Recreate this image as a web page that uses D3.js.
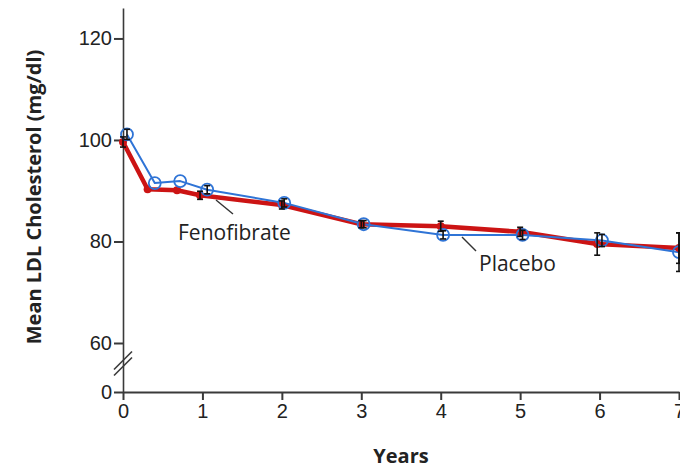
<!DOCTYPE html>
<html>
<head>
<meta charset="utf-8">
<script src="https://cdn.jsdelivr.net/npm/d3@7"></script>
<style>
  body { margin: 0; background: #fff; }
  svg { display: block; font-family: 'Open Sans', sans-serif; }
</style>
</head>
<body>
<svg id="chart" width="680" height="469"></svg>
<script>
// data
const fenoYears = [0, 0.31, 0.68, 0.97, 2.0, 3.0, 4.0, 5.0, 5.97, 7.0];
const fenoLdl = [99.6, 90.3, 90.1, 89.1, 87.2, 83.4, 83.0, 81.9, 79.5, 78.7];
const fenoErr = [1.0, 0, 0, 0.8, 0.8, 0.7, 1.0, 0.9, 2.2, 3.0];

const placeboYears = [0.05, 0.4, 0.72, 1.06, 2.03, 3.03, 4.03, 5.03, 6.03, 7.0];
const placeboLdl = [101.1, 91.5, 91.9, 90.2, 87.6, 83.4, 81.3, 81.3, 80.2, 77.9];
const placeboErr = [1.0, 0, 0, 0.8, 0.8, 0.7, 0.8, 0.9, 1.2, 3.8];

const xTicks = [0, 1, 2, 3, 4, 5, 6, 7];
const yTicks = [0, 60, 80, 100, 120];

const svg = d3.select('#chart');

// y has a broken axis between 0 and 60
const x = d3.scaleLinear().domain([0, 7]).range([123, 679]);
const y = d3.scaleLinear().domain([0, 60, 126]).range([392, 343, 8]);

const axisColor = '#3a3a3a';

const series = [
  { name: 'Fenofibrate', years: fenoYears, vals: fenoLdl, err: fenoErr, color: '#cc1414', width: 4.5 },
  { name: 'Placebo', years: placeboYears, vals: placeboLdl, err: placeboErr, color: '#2f74d6', width: 2 },
];
series.forEach((s) => {
  s.points = s.years.map((t, i) => ({ t: t, v: s.vals[i], e: s.err[i] }));
});

const line = d3.line().x((d) => x(d.t)).y((d) => y(d.v));

// x axis
svg.append('g')
  .attr('transform', `translate(0,${y(0)})`)
  .call(d3.axisBottom(x).tickValues(xTicks).tickFormat(d3.format('d')).tickSize(8).tickSizeOuter(0).tickPadding(4))
  .call((g) => g.select('.domain').attr('stroke', axisColor).attr('stroke-width', 2.2))
  .call((g) => g.selectAll('.tick line').attr('stroke', axisColor).attr('stroke-width', 2))
  .call((g) => g.selectAll('.tick text').attr('font-size', 20).attr('fill', '#222'));

// y axis
svg.append('g')
  .attr('transform', `translate(${x(0)},0)`)
  .call(d3.axisLeft(y).tickValues(yTicks).tickFormat(d3.format('d')).tickSize(9).tickSizeOuter(0).tickPadding(2))
  .call((g) => g.select('.domain').attr('stroke', axisColor).attr('stroke-width', 1.6))
  .call((g) => g.selectAll('.tick line').attr('stroke', axisColor).attr('stroke-width', 2))
  .call((g) => g.selectAll('.tick text').attr('font-size', 20).attr('fill', '#222'));

// break marks
const bx = x(0), by = (y(0) + y(60)) / 2 - 4;
[-3, 3].forEach((o) => {
  svg.append('line')
    .attr('x1', bx - 9).attr('y1', by + 9 + o)
    .attr('x2', bx + 9).attr('y2', by - 9 + o)
    .attr('stroke', axisColor).attr('stroke-width', 1.6);
});

// series lines
series.forEach((s) => {
  svg.append('path')
    .datum(s.points)
    .attr('fill', 'none')
    .attr('stroke', s.color)
    .attr('stroke-width', s.width)
    .attr('stroke-linejoin', 'round')
    .attr('d', line);
});

// red markers
svg.append('g').selectAll('circle')
  .data(series[0].points)
  .join('circle')
  .attr('cx', (d) => x(d.t))
  .attr('cy', (d) => y(d.v))
  .attr('r', 4)
  .attr('fill', series[0].color);

// blue open circles
svg.append('g').selectAll('circle')
  .data(series[1].points)
  .join('circle')
  .attr('cx', (d) => x(d.t))
  .attr('cy', (d) => y(d.v))
  .attr('r', 6)
  .attr('fill', 'none')
  .attr('stroke', series[1].color)
  .attr('stroke-width', 1.8);

// error bars
series.forEach((s) => {
  const g = svg.append('g').attr('stroke', '#111').attr('stroke-width', 1.6);
  s.points.filter((d) => d.e > 0).forEach((d) => {
    const cx = x(d.t), y1 = y(d.v + d.e), y2 = y(d.v - d.e);
    g.append('line').attr('x1', cx).attr('x2', cx).attr('y1', y1).attr('y2', y2);
    g.append('line').attr('x1', cx - 3).attr('x2', cx + 3).attr('y1', y1).attr('y2', y1);
    g.append('line').attr('x1', cx - 3).attr('x2', cx + 3).attr('y1', y2).attr('y2', y2);
  });
});

// labels with leader lines
svg.append('line').attr('x1', 216).attr('y1', 200).attr('x2', 233).attr('y2', 214)
  .attr('stroke', '#333').attr('stroke-width', 1.4);
svg.append('text').attr('x', 178).attr('y', 240).attr('font-size', 21).attr('fill', '#222')
  .text('Fenofibrate');

svg.append('line').attr('x1', 462).attr('y1', 237).attr('x2', 476).attr('y2', 251)
  .attr('stroke', '#333').attr('stroke-width', 1.4);
svg.append('text').attr('x', 479).attr('y', 271).attr('font-size', 21).attr('fill', '#222')
  .text('Placebo');

// axis titles
svg.append('text')
  .attr('x', 401).attr('y', 463)
  .attr('text-anchor', 'middle')
  .attr('font-size', 20).attr('font-weight', 'bold').attr('fill', '#222')
  .text('Years');

svg.append('text')
  .attr('transform', 'translate(41,197) rotate(-90)')
  .attr('text-anchor', 'middle')
  .attr('font-size', 20).attr('font-weight', 'bold').attr('fill', '#222')
  .text('Mean LDL Cholesterol (mg/dl)');
</script>
</body>
</html>
